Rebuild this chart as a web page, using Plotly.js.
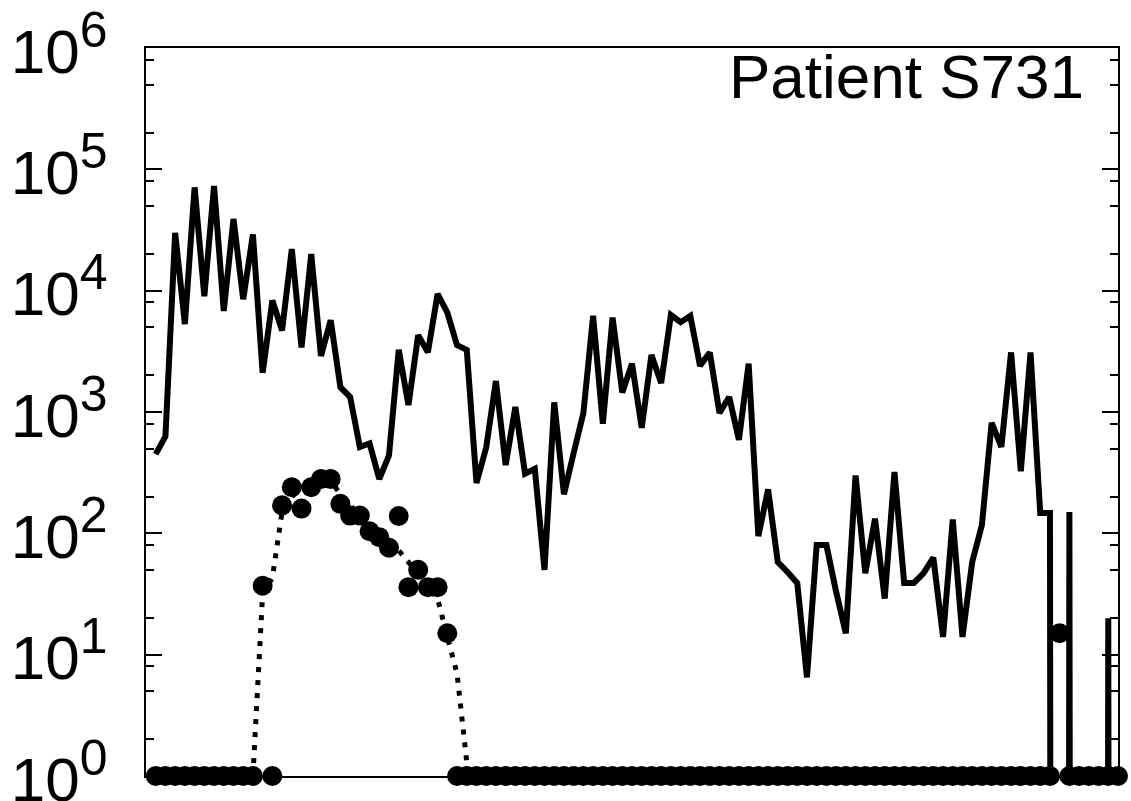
<!DOCTYPE html>
<html>
<head>
<meta charset="utf-8">
<script src="https://cdn.plot.ly/plotly-3.0.1.min.js"></script>
<style>html,body{margin:0;padding:0;background:#fff;}#chart{width:1131px;height:801px;}</style>
</head>
<body>
<div id="chart"></div>
<script>
// sample index (x position of each measurement)
const sampleNo = Array.from({length: 100}, (_, k) => k + 1);

// solid line series (0 = no signal)
const totalCounts = [
  450, 630, 30000, 5300, 71000, 9000, 73000, 6800, 39000, 8500,
  29000, 2100, 8300, 4700, 22000, 3400, 20000, 2900, 5700, 1600,
  1330, 515, 550, 280, 440, 3250, 1140, 4300, 3100, 9400,
  6600, 3550, 3250, 260, 510, 1800, 365, 1100, 310, 340,
  50, 1200, 210, 460, 980, 6200, 800, 6000, 1450, 2500,
  740, 2950, 1730, 6300, 5500, 6200, 2400, 3100, 980, 1330,
  590, 2500, 95, 230, 58, 48, 39, 6.5, 80, 80,
  33, 15, 300, 47, 132, 29, 320, 39, 39, 47,
  63, 14, 130, 14, 58, 117, 815, 515, 3100, 325,
  3100, 147, 147, 0, 150, 0, 0, 0, 20, 0
];

// filled-circle series (0 = none detected, drawn on the axis floor)
const cloneCounts = [
  0, 0, 0, 0, 0, 0, 0, 0, 0, 0,
  0, 37, 0, 170, 240, 160, 240, 280, 280, 175,
  140, 140, 104, 93, 76, 139, 36, 50, 36, 36,
  15, 0, 0, 0, 0, 0, 0, 0, 0, 0,
  0, 0, 0, 0, 0, 0, 0, 0, 0, 0,
  0, 0, 0, 0, 0, 0, 0, 0, 0, 0,
  0, 0, 0, 0, 0, 0, 0, 0, 0, 0,
  0, 0, 0, 0, 0, 0, 0, 0, 0, 0,
  0, 0, 0, 0, 0, 0, 0, 0, 0, 0,
  0, 0, 0, 15, 0, 0, 0, 0, 0, 0
];

// dotted fitted curve
const fitX = [11, 12, 13, 14, 15, 16, 17, 18, 19, 20, 21, 22, 23, 24, 25, 26, 27, 28, 29, 30, 31, 32, 33, 34];
const fitY = [1, 32, 43, 150, 200, 240, 270, 280, 270, 210, 170, 140, 115, 100, 85, 72, 58, 45, 36, 29, 14, 7, 1.3, 0.05];

// axis ticks
const majorTicks = [1, 10, 100, 1000, 10000, 100000, 1000000];
const majorExponents = ['0', '1', '2', '3', '4', '5', '6'];
const minorMantissas = [2, 5, 8];
const panelLabel = 'Patient S731';

const AXIS_FLOOR = 1;       // where zero counts are shown as points
const LOG_ZERO = 1e-60;     // zero on a log line: drops straight off the axis

const minorTicks = [];
for (let d = 0; d < 6; d++) minorMantissas.forEach(m => minorTicks.push(m * Math.pow(10, d)));
const majorLabels = majorExponents.map(e => '10<sup><span style="font-size:50px">' + e + '</span></sup>');

const traces = [
  {
    x: sampleNo, y: totalCounts.map(v => v > 0 ? v : LOG_ZERO),
    type: 'scatter', mode: 'lines',
    line: {color: '#000', width: 6, shape: 'linear', simplify: false},
    hoverinfo: 'skip'
  },
  {
    x: fitX, y: fitY,
    type: 'scatter', mode: 'lines',
    line: {color: '#000', width: 5, dash: '5px,8px', simplify: false},
    hoverinfo: 'skip'
  },
  {
    x: sampleNo, y: cloneCounts.map(v => v > 0 ? v : AXIS_FLOOR),
    type: 'scatter', mode: 'markers', cliponaxis: false,
    marker: {color: '#000', size: 20, symbol: 'circle', line: {width: 0}},
    hoverinfo: 'skip'
  }
];

const layout = {
  width: 1131, height: 801,
  margin: {l: 146, r: 13, t: 48, b: 25, pad: 0},
  paper_bgcolor: '#fff', plot_bgcolor: '#fff',
  showlegend: false,
  font: {family: 'Liberation Sans, Arial, sans-serif', color: '#000'},
  xaxis: {
    range: [0, 100], showline: true, linecolor: '#000', linewidth: 2, mirror: true,
    ticks: '', showticklabels: false, showgrid: false, zeroline: false
  },
  yaxis: {
    type: 'log', range: [0, 6], showline: true, linecolor: '#000', linewidth: 2, mirror: 'ticks',
    tickmode: 'array', tickvals: majorTicks, ticktext: majorLabels,
    ticks: 'inside', ticklen: 16, tickwidth: 2, tickcolor: '#000',
    minor: {tickmode: 'array', tickvals: minorTicks, ticks: 'inside', ticklen: 8, tickwidth: 2, tickcolor: '#000', showgrid: false},
    showgrid: false, zeroline: false,
    tickfont: {family: 'Liberation Sans, Arial, sans-serif', size: 62, color: '#000'},
    ticklabelstandoff: 24, ticklabelshift: 3, ticklabeloverflow: 'allow'
  },
  annotations: [{
    text: panelLabel, xref: 'paper', yref: 'paper', x: 0.967, y: 1, yshift: 8,
    xanchor: 'right', yanchor: 'top', showarrow: false,
    font: {family: 'Liberation Sans, Arial, sans-serif', size: 62, color: '#000'}
  }]
};

Plotly.newPlot('chart', traces, layout, {displayModeBar: false, staticPlot: true});
</script>
</body>
</html>
